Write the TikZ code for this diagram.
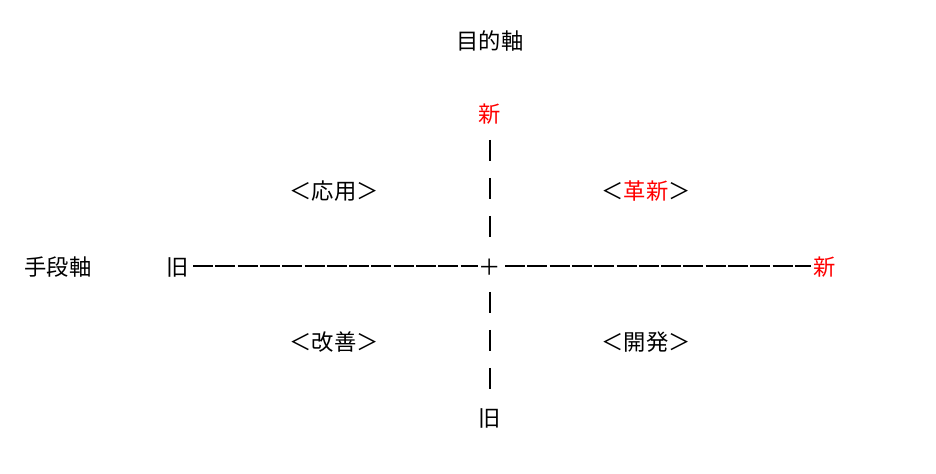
\documentclass[tikz,border=0pt]{standalone}
\usepackage{fontspec}
\newfontfamily\jp{Noto Sans CJK JP}

\tikzset{
  lbl/.style={font=\jp\fontsize{11.15pt}{13pt}\selectfont,inner sep=0pt,
    text height=1.1em,text depth=0.15em},
  newlbl/.style={lbl,text=red},
  hdash/.style={draw,line width=1pt,dash pattern=on 10pt off 1.15pt},
  vdash/.style={draw,line width=1pt,dash pattern=on 10.5pt off 8.5pt},
}

\begin{document}
\begin{tikzpicture}[x=0.5pt,y=-0.5pt,node distance=19pt]
\useasboundingbox (0,0) rectangle (936,474);

\node[lbl](cross) at (490,266) {＋};
\node[newlbl, above of=cross, node distance=76.5pt](newp) {新};
\node[lbl, below of=cross, node distance=75.5pt](oldp) {旧};
\node[lbl, left of=cross, node distance=156pt](oldm) {旧};
\node[newlbl, right of=cross, node distance=167.25pt](newm) {新};
\node[lbl, above of=newp, node distance=36.5pt](purpose) {目的軸};
\node[lbl, left of=oldm, node distance=60pt](means) {手段軸};
\node[lbl, above of=cross, node distance=38pt, xshift=-78pt](apply) {＜応用＞};
\node[lbl, above of=cross, node distance=38pt, xshift=78pt](innov) {＜{\color{red}革新}＞};
\node[lbl, below of=cross, node distance=37.5pt, xshift=-78pt](improve) {＜改善＞};
\node[lbl, below of=cross, node distance=37.5pt, xshift=78pt](develop) {＜開発＞};

\draw[hdash, shorten <=7.5pt, shorten >=6pt] (oldm.center) -- (cross.center);
\draw[hdash, shorten <=7.5pt, shorten >=7pt] (cross.center) -- (newm.center);
\draw[vdash, shorten <=13.5pt, shorten >=14.5pt] (newp.center) -- (cross.center);
\draw[vdash, shorten <=13pt, shorten >=14pt] (cross.center) -- (oldp.center);

\end{tikzpicture}
\end{document}
